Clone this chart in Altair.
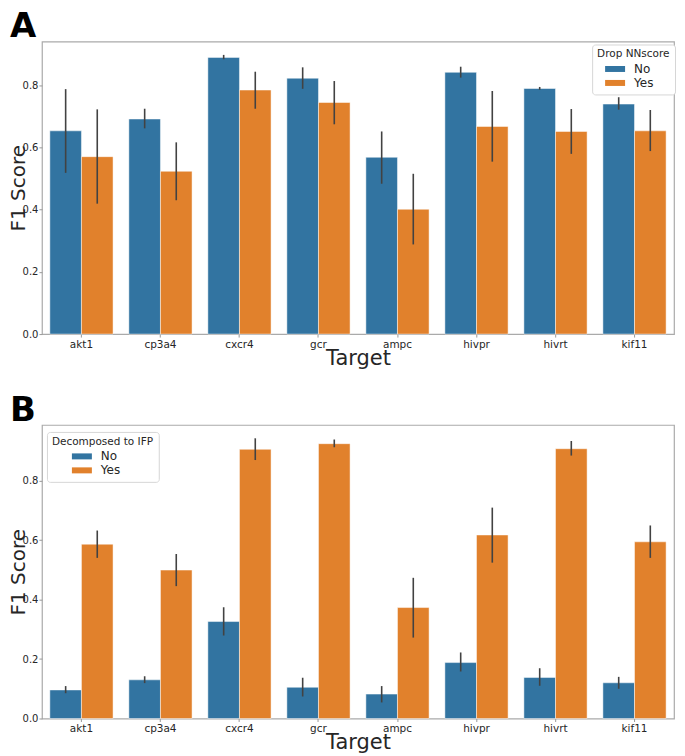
import altair as alt
import pandas as pd

targets = ["akt1", "cp3a4", "cxcr4", "gcr", "ampc", "hivpr", "hivrt", "kif11"]
groups = ["No", "Yes"]

# Panel A: Drop NNscore
a_no = [0.653, 0.691, 0.889, 0.822, 0.568, 0.841, 0.789, 0.739]
a_no_lo = [0.518, 0.661, 0.883, 0.788, 0.483, 0.824, 0.785, 0.721]
a_no_hi = [0.787, 0.724, 0.897, 0.857, 0.651, 0.859, 0.794, 0.761]
a_yes = [0.570, 0.523, 0.784, 0.744, 0.401, 0.667, 0.651, 0.653]
a_yes_lo = [0.419, 0.430, 0.724, 0.674, 0.288, 0.554, 0.579, 0.588]
a_yes_hi = [0.722, 0.616, 0.843, 0.813, 0.515, 0.781, 0.723, 0.720]

# Panel B: Decomposed to IFP
b_no = [0.096, 0.130, 0.326, 0.105, 0.082, 0.188, 0.138, 0.120]
b_no_lo = [0.085, 0.119, 0.279, 0.074, 0.054, 0.158, 0.110, 0.100]
b_no_hi = [0.109, 0.142, 0.374, 0.137, 0.109, 0.222, 0.169, 0.140]
b_yes = [0.586, 0.499, 0.905, 0.924, 0.373, 0.617, 0.907, 0.594]
b_yes_lo = [0.540, 0.445, 0.869, 0.912, 0.272, 0.524, 0.884, 0.540]
b_yes_hi = [0.632, 0.553, 0.942, 0.938, 0.473, 0.709, 0.933, 0.649]

BLUE = "#3274a1"
ORANGE = "#e1812c"
TXT = "#262626"
FONT = "DejaVu Sans"
PLOT_W = 633


def make_df(no, no_lo, no_hi, yes, yes_lo, yes_hi):
    rows = []
    for i, t in enumerate(targets):
        rows.append(dict(target=t, group="No", f1=no[i], lo=no_lo[i], hi=no_hi[i]))
        rows.append(dict(target=t, group="Yes", f1=yes[i], lo=yes_lo[i], hi=yes_hi[i]))
    return pd.DataFrame(rows)


def panel(df, letter, legend_title, lx, ly, sym_off, ymax, height, title_off):
    x = alt.X(
        "target:N",
        sort=targets,
        scale=alt.Scale(paddingInner=0.2, paddingOuter=0.1),
        axis=alt.Axis(
            title="Target", labelAngle=0, labelFontSize=10.5, labelColor=TXT,
            labelPadding=2, tickSize=3, tickColor="#999999", domain=False,
            titleFontSize=21, titleFontWeight="normal", titleColor=TXT,
            titlePadding=-2,
        ),
    )
    xo = alt.XOffset("group:N", sort=groups,
                     scale=alt.Scale(paddingInner=0, paddingOuter=0))
    y = alt.Y(
        "f1:Q",
        scale=alt.Scale(domain=[0, ymax], nice=False, zero=True),
        axis=alt.Axis(
            title="F1 Score", values=[0, 0.2, 0.4, 0.6, 0.8], format=".1f",
            labelFontSize=10, labelColor=TXT, labelPadding=1, tickSize=3,
            tickColor="#999999", domain=False, grid=False,
            titleFontSize=20, titleFontWeight="normal", titleColor=TXT,
            titleX=-33, titleY=height / 2, titleBaseline="top",
            titleAlign="center", titleAngle=270,
        ),
    )
    color = alt.Color(
        "group:N",
        scale=alt.Scale(domain=groups, range=[BLUE, ORANGE]),
        legend=alt.Legend(
            title=legend_title, orient="none", legendX=lx, legendY=ly,
            titleFontSize=10.5, titleFontWeight="normal", titleColor=TXT,
            labelFontSize=12, labelColor=TXT,
            symbolType="M-2,-0.6H2V0.6H-2Z", symbolSize=100,
            symbolStrokeWidth=0, symbolOffset=sym_off, labelOffset=13,
            padding=5, rowPadding=2, titlePadding=3,
            strokeColor="#d6d6d6", fillColor="white", cornerRadius=3,
        ),
    )
    base = alt.Chart(df)
    bars = base.mark_bar(stroke="white", strokeWidth=0.8, strokeOpacity=0.6).encode(
        x=x, xOffset=xo, y=y, color=color
    )
    err = base.mark_rule(color="#424242", strokeWidth=1.6).encode(
        x=x, xOffset=xo, y="lo:Q", y2="hi:Q"
    )
    return alt.layer(bars, err).properties(
        width=PLOT_W, height=height,
        title=alt.TitleParams(text=letter, anchor="start", fontSize=34,
                              fontWeight="bold", font=FONT, color="black",
                              offset=title_off, dx=1),
    )


dfa = make_df(a_no, a_no_lo, a_no_hi, a_yes, a_yes_lo, a_yes_hi)
dfb = make_df(b_no, b_no_lo, b_no_hi, b_yes, b_yes_lo, b_yes_hi)

pa = panel(dfa, "A", "Drop NNscore", 551, 3, 12, 0.94, 293, -2)
pb = panel(dfb, "B", "Decomposed to IFP", 5, 7, 24, 0.987, 294, -3)

chart = alt.vconcat(pa, pb, spacing=23).resolve_scale(
    color="independent"
).resolve_legend(color="independent").properties(
    padding={"left": 0, "top": 0, "right": 0, "bottom": 0}
).configure(font=FONT).configure_view(
    stroke="#aaaaaa", strokeWidth=1.2
)

chart.save("out.html", embed_options={"renderer": "svg", "actions": False})
